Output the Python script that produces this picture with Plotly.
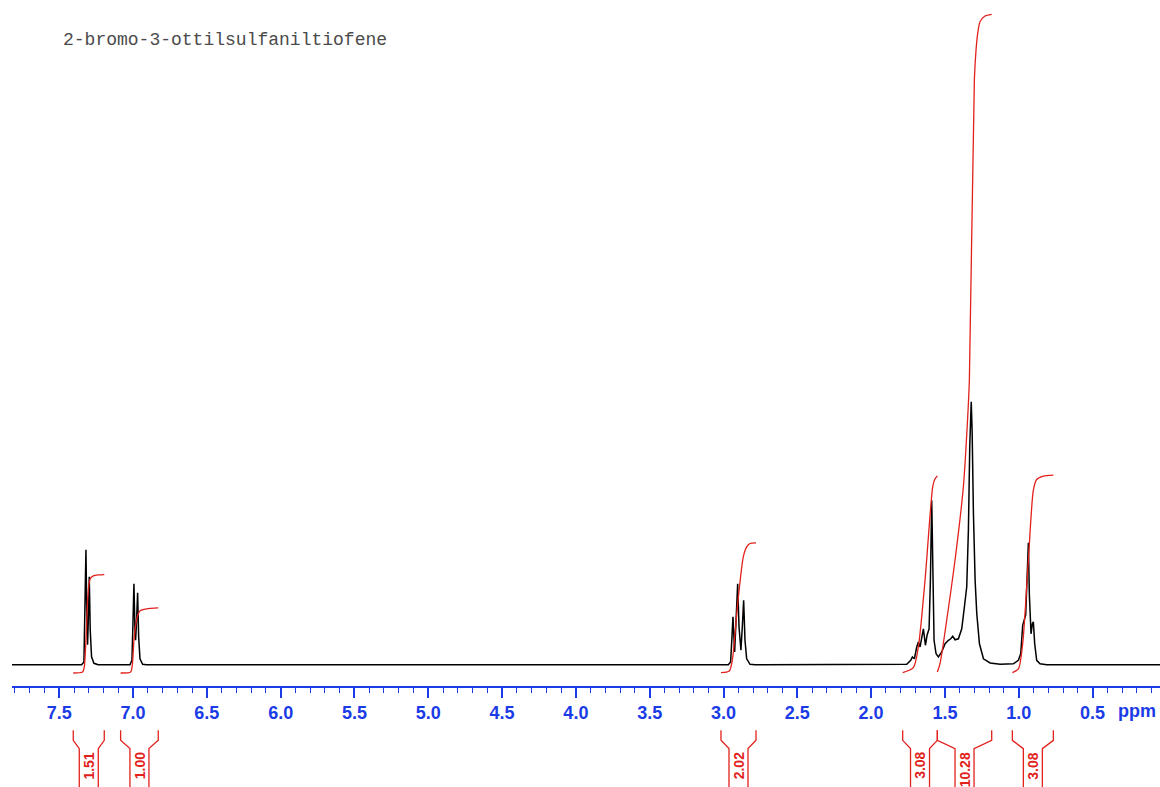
import plotly.graph_objects as go

# ---------------- data ----------------
title_text = "2-bromo-3-ottilsulfaniltiofene"

# 1H spectrum trace (chemical shift in ppm, intensity in arbitrary units)
spec_ppm = [7.82, 7.3485, 7.3327, 7.326, 7.319, 7.3125, 7.308, 7.303, 7.2966, 7.290, 7.281, 7.265, 7.236,
            7.021, 7.0075, 7.0007, 6.994, 6.987, 6.9826, 6.976, 6.969, 6.962, 6.953, 6.935, 6.908,
            2.9675, 2.952, 2.9425, 2.936, 2.9245, 2.9155, 2.904, 2.895, 2.882, 2.8725, 2.8635, 2.8545, 2.843,
            2.8205, 2.786,
            1.7588, 1.7317, 1.7204, 1.707, 1.691, 1.6797, 1.6684, 1.657, 1.6458, 1.6322,
            1.621, 1.6074, 1.5984, 1.5894, 1.5826, 1.5736, 1.56, 1.5442, 1.5216, 1.499,
            1.4764, 1.4606, 1.447, 1.4312, 1.4087, 1.3861, 1.368, 1.3522, 1.341, 1.3319,
            1.3219, 1.3158, 1.3068, 1.2955, 1.2842, 1.2661, 1.239, 1.1939, 1.1261,
            1.0364, 1.0025, 0.9866, 0.9731, 0.9641, 0.9528, 0.9415, 0.9347, 0.928, 0.9167,
            0.9077, 0.9009, 0.8919, 0.8783, 0.8557, 0.8106, 0.043]
spec_int = [0, 0, 2.8, 51, 115, 40, 20, 45, 88, 34.5, 8, 1.5, 0,
            0, 4.5, 41, 81, 34.5, 24.5, 44.5, 72, 28, 6, 0.5, 0,
            0, 2.8, 28, 48, 12.8, 44.5, 81, 38, 14.5, 38, 64.5, 24.5, 6, 0.5, 0,
            0.5, 4.5, 7.8, 6, 17.8, 22.8, 17.8, 27.8, 36, 19.5,
            29.5, 36, 84.5, 164.5, 84.5, 24.5, 11, 7.8, 12.8, 21,
            24.5, 26, 28.5, 25, 26, 36, 58, 78, 134.5, 218,
            263, 234.5, 151, 84.5, 51, 21, 6, 1.8, 0.5,
            1, 4.5, 11, 39.5, 44.5, 50, 95, 122, 70, 31,
            41, 43, 21, 4.5, 1, 0, 0]

# integral curves
int1_ppm = [7.405, 7.3417, 7.3304, 7.3191, 7.3101, 7.301, 7.2898, 7.2694, 7.2356, 7.1949]
int1_val = [-8.2, -7.2, -2.2, 24.5, 57.8, 77.8, 86.2, 88.8, 89.8, 90.2]
int2_ppm = [7.0842, 7.0165, 7.0052, 6.9939, 6.9804, 6.969, 6.9533, 6.9081, 6.8291]
int2_val = [-8.2, -7.2, -0.5, 24.5, 41.2, 49.5, 53.8, 55.8, 56.8]
int3_ppm = [3.017, 2.9607, 2.9404, 2.9038, 2.8659, 2.8428, 2.8205, 2.7798]
int3_val = [-7.8, -6.2, 4.5, 61.2, 107.8, 117.8, 121.2, 121.8]
int4_ppm = [1.7861, 1.7139, 1.68, 1.6348, 1.5828, 1.5693, 1.5513]
int4_val = [-7.8, -2.8, 17.8, 84.5, 177.8, 185.2, 188.8]
int5_ppm = [1.5513, 1.5332, 1.488, 1.4316, 1.3751, 1.348, 1.3345, 1.3006, 1.2893, 1.278, 1.2622, 1.2283, 1.1831]
int5_val = [-7.2, 1.2, 44.5, 104.5, 177.8, 241.2, 284.5, 584.5, 614.5, 631.2, 642.8, 648.5, 650.2]
int6_ppm = [1.0432, 1.0025, 0.9731, 0.9347, 0.9009, 0.8783, 0.8331, 0.7654]
int6_val = [-7.8, -4.2, 21.2, 104.5, 174.5, 185.2, 188.5, 189.5]
integral_labels = ["1.51", "1.00", "2.02", "3.08", "10.28", "3.08"]

# ---------------- layout constants ----------------
W, H = 1160, 787
ML, MB = 12, 101.3
X_RANGE = [7.82, 0.043]
Y_RANGE = [-21.2, 664.5]
plot_h = H - MB
px_per_ppm = (W - ML) / (X_RANGE[0] - X_RANGE[1])
BLUE = "#1a3be6"
RED = "#e2211c"


def ypaper(py):
    return (plot_h - py) / plot_h


integrals = [(int1_ppm, int1_val), (int2_ppm, int2_val), (int3_ppm, int3_val),
             (int4_ppm, int4_val), (int5_ppm, int5_val), (int6_ppm, int6_val)]

fig = go.Figure()
fig.add_trace(go.Scatter(x=spec_ppm, y=spec_int, mode="lines",
                         line=dict(color="black", width=1.5), hoverinfo="skip"))
for xs, ys in integrals:
    fig.add_trace(go.Scatter(x=xs, y=ys, mode="lines",
                             line=dict(color=RED, width=1.3, shape="spline", smoothing=0.7),
                             hoverinfo="skip"))

shapes = []
annotations = []
d = 9.5 / px_per_ppm
for (xs, ys), lab in zip(integrals, integral_labels):
    s, e = xs[0], xs[-1]
    c = (s + e) / 2
    left = f"M {s},{ypaper(730)} L {s},{ypaper(740)} L {c + d},{ypaper(748.3)} L {c + d},{ypaper(792)}"
    right = f"M {e},{ypaper(730)} L {e},{ypaper(740)} L {c - d},{ypaper(748.3)} L {c - d},{ypaper(792)}"
    for p in (left, right):
        shapes.append(dict(type="path", path=p, xref="x", yref="paper",
                           line=dict(color=RED, width=1.3)))
    annotations.append(dict(x=c, xref="x", y=ypaper(750), yref="paper", text=lab,
                            textangle=-90, showarrow=False, xanchor="center", yanchor="top",
                            font=dict(family="Liberation Sans, Arial, sans-serif", size=14,
                                      color=RED, weight="bold")))

annotations.append(dict(x=(61 - ML) / (W - ML), xref="paper", y=ypaper(40), yref="paper",
                        text=title_text, showarrow=False, xanchor="left", yanchor="middle",
                        font=dict(family="Liberation Mono, Courier New, monospace", size=18, color="#4a4a4a")))
annotations.append(dict(x=0.2, xref="x", y=ypaper(711), yref="paper", text="ppm",
                        showarrow=False, xanchor="center", yanchor="middle",
                        font=dict(family="Liberation Sans, Arial, sans-serif", size=18,
                                  color=BLUE, weight="bold")))

fig.update_layout(
    width=W, height=H,
    margin=dict(l=ML, r=0, t=0, b=MB, pad=0),
    plot_bgcolor="white", paper_bgcolor="white",
    showlegend=False,
    shapes=shapes, annotations=annotations,
    xaxis=dict(range=X_RANGE, showgrid=False, zeroline=False,
               showline=True, linecolor=BLUE, linewidth=1.5,
               ticks="outside", ticklen=10, tickwidth=1.5, tickcolor=BLUE,
               tick0=0, dtick=0.5, tickformat=".1f",
               tickfont=dict(family="Liberation Sans, Arial, sans-serif", size=18,
                             color=BLUE, weight="bold"),
               minor=dict(ticks="outside", dtick=0.1, tick0=0, ticklen=5,
                          tickwidth=1, tickcolor=BLUE)),
    yaxis=dict(range=Y_RANGE, visible=False, showgrid=False, zeroline=False),
)

fig.write_html("out.html")
